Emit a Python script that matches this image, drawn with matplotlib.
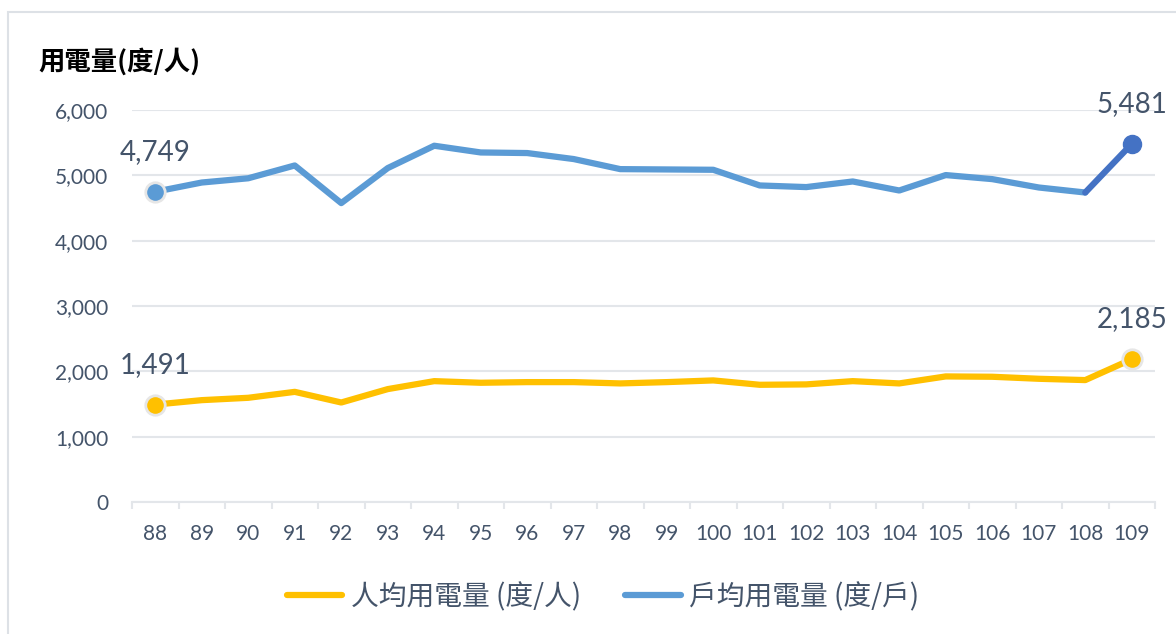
import numpy as np
import matplotlib
matplotlib.use("Agg")
import matplotlib.pyplot as plt
from matplotlib.patches import Rectangle

# 年度 (民國)
years = ['88', '89', '90', '91', '92', '93', '94', '95', '96', '97', '98',
         '99', '100', '101', '102', '103', '104', '105', '106', '107', '108', '109']
# 人均用電量 (度/人)
per_person = [1491, 1559, 1595, 1686, 1523, 1728, 1850, 1825, 1835, 1835, 1815,
              1835, 1861, 1794, 1800, 1850, 1815, 1922, 1917, 1886, 1866, 2185]
# 戶均用電量 (度/戶)
per_household = [4749, 4890, 4955, 5151, 4575, 5111, 5453, 5350, 5341, 5249, 5095,
                 5090, 5085, 4845, 4820, 4906, 4768, 5004, 4942, 4814, 4737, 5481]
y_ticks = [0, 1000, 2000, 3000, 4000, 5000, 6000]

c_yellow = '#FFC000'
c_blue = '#5B9BD5'
c_blue_dark = '#4472C4'
c_text = '#44546A'
c_grid = '#E3E6EA'
num_font = ['Lato', 'Noto Sans CJK TC', 'DejaVu Sans']
cjk_font = ['Noto Sans CJK TC', 'DejaVu Sans']

W, H = 1176, 634
fig = plt.figure(figsize=(W / 100, H / 100), dpi=100)
fig.patch.set_facecolor('white')

# outer border of the chart area
fig.add_artist(Rectangle((8 / W, -0.1), 1.2, 1.1 - 12 / H, transform=fig.transFigure,
                         fill=False, edgecolor='#DDE1E6', linewidth=1.5))

ax = fig.add_axes([132 / W, (H - 502) / H, 1023 / W, 392 / H])
x = np.arange(len(years))

ax.plot(x, per_person, color=c_yellow, linewidth=4.5, solid_capstyle='round', zorder=3,
        label='人均用電量 (度/人)')
ax.plot(x[:-1], per_household[:-1], color=c_blue, linewidth=4.5, solid_capstyle='round',
        zorder=3, label='戶均用電量 (度/戶)')
ax.plot(x[-2:], per_household[-2:], color=c_blue_dark, linewidth=4.5,
        solid_capstyle='round', zorder=3)

# markers on first and last points
ax.plot(x[0], per_person[0], 'o', ms=14, mfc=c_yellow, mec='#E6E6E6', mew=2, zorder=4)
ax.plot(x[-1], per_person[-1], 'o', ms=14, mfc=c_yellow, mec='#E6E6E6', mew=2, zorder=4)
ax.plot(x[0], per_household[0], 'o', ms=14, mfc=c_blue, mec='#E6E6E6', mew=2, zorder=4)
ax.plot(x[-1], per_household[-1], 'o', ms=13, mfc=c_blue_dark, mec=c_blue_dark, mew=1, zorder=4)

for i in [0, len(x) - 1]:
    for series in (per_person, per_household):
        ax.annotate(f"{series[i]:,}", (x[i], series[i]), xytext=(0, 40),
                    textcoords='offset pixels', ha='center', va='center',
                    fontsize=20, color=c_text, family=num_font, zorder=5)

ax.set_xlim(-0.5, len(years) - 0.5)
ax.set_ylim(0, 6000)
ax.set_yticks(y_ticks)
ax.set_yticklabels([f"{v:,}" for v in y_ticks], family=num_font)
ax.set_xticks(x)
ax.set_xticklabels(years, family=num_font)
ax.set_xticks(np.arange(-0.5, len(years), 1), minor=True)
ax.grid(axis='y', color=c_grid, linewidth=1.5, zorder=0)
ax.set_axisbelow(True)

for side in ['top', 'right', 'left']:
    ax.spines[side].set_visible(False)
ax.spines['bottom'].set_color(c_grid)
ax.spines['bottom'].set_linewidth(1.5)

ax.tick_params(axis='y', length=0, pad=17, labelsize=15, labelcolor=c_text)
ax.tick_params(axis='x', which='major', length=0, pad=16, labelsize=15, labelcolor=c_text)
ax.tick_params(axis='x', which='minor', length=5, width=1.5, color=c_grid)

fig.text(38 / W, 1 - 62 / H, '用電量(度/人)', ha='left', va='center', fontsize=19,
         fontweight='bold', color='black', family=cjk_font)

handles, labels = ax.get_legend_handles_labels()
fig.legend(handles, labels, loc='center', bbox_to_anchor=(603 / W, 1 - 597 / H), ncol=2,
           frameon=False, handlelength=2.0, handletextpad=0.3, columnspacing=1.6,
           borderpad=0, prop={'family': cjk_font, 'size': 20}, labelcolor=c_text)

fig.savefig('out.png', dpi=100, facecolor='white')
